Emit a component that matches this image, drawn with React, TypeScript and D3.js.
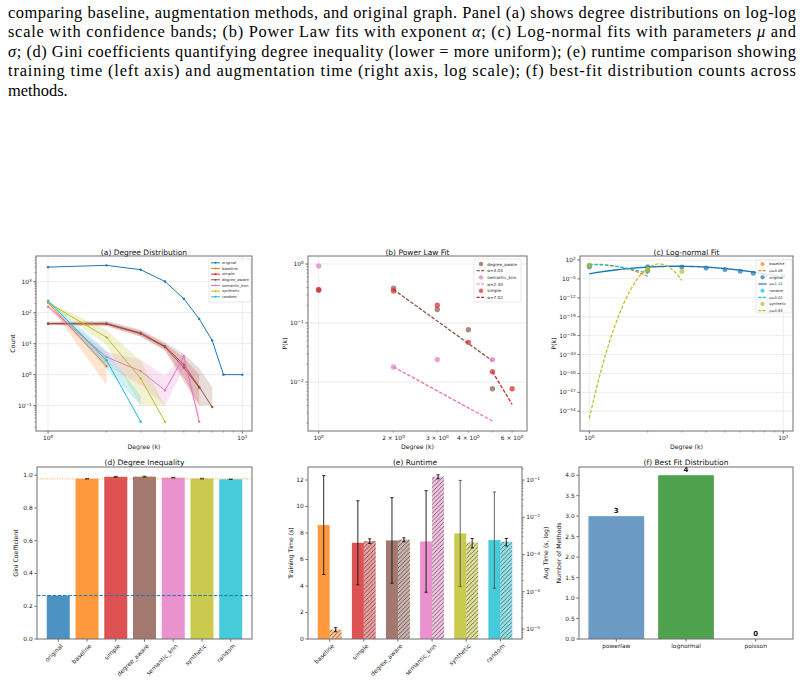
import * as d3 from "d3";
import { useEffect, useRef } from "react";

const W = 804;
const H = 684;
const FONT = "DejaVu Sans, Verdana, sans-serif";

const CAPTION_LINES = [
  "comparing baseline, augmentation methods, and original graph. Panel (a) shows degree distributions on log-log",
  "scale with confidence bands; (b) Power Law fits with exponent {α}; (c) Log-normal fits with parameters {μ} and",
  "{σ}; (d) Gini coefficients quantifying degree inequality (lower = more uniform); (e) runtime comparison showing",
  "training time (left axis) and augmentation time (right axis, log scale); (f) best-fit distribution counts across",
  "methods.",
];

const METHODS = ["original", "baseline", "simple", "degree_aware", "semantic_knn", "synthetic", "random"];
const COLORS: Record<string, string> = {
  original:     "#1f77b4",
  baseline:     "#ff7f0e",
  simple:       "#d62728",
  degree_aware: "#8c564b",
  semantic_knn: "#e377c2",
  synthetic:    "#bcbd22",
  random:       "#17becf",
};

// (a) degree distribution: mean count per degree, lower / upper band
const K_ORIGINAL = [1, 2, 3, 4, 5, 6, 7, 8, 10];
const N_ORIGINAL = [2950, 3380, 2440, 1020, 282, 63, 12.6, 1, 1];
const N_BASELINE = [210, 1.86];
const LO_BASELINE = [195, 0.45];
const HI_BASELINE = [226, 3.4];
const N_SIMPLE = [44, 43, 21, 7.8, 1.7, 0.38];
const LO_SIMPLE = [40, 38, 17, 6, 0.6, 0.1];
const HI_SIMPLE = [48, 50, 26, 10, 3.6, 1.0];
const N_DEGREE_AWARE = [45, 45, 22, 8.2, 2.1, 0.4, 0.09];
const LO_DEGREE_AWARE = [40, 37, 17, 6.2, 0.8, 0.1, 0.1];
const HI_DEGREE_AWARE = [51, 55, 28, 11, 4.6, 1.6, 0.4];
const N_SEMANTIC_KNN = [155, 3.7, 1.3, 0.31, 3.9, 0.03];
const LO_SEMANTIC_KNN = [140, 2.0, 0.45, 0.1, 1.6, 0.03];
const HI_SEMANTIC_KNN = [170, 5.5, 3.0, 0.9, 5.0, 0.06];
const N_SYNTHETIC = [210, 16, 0.75, 0.03];
const LO_SYNTHETIC = [195, 9, 0.1, 0.1];
const HI_SYNTHETIC = [226, 28, 2.8, 0.1];
const N_RANDOM = [245, 2.9, 0.03];
const LO_RANDOM = [230, 1.5, 0.1];
const HI_RANDOM = [262, 6, 0.2];

// (b) power law fit: empirical P(k) and fitted exponents
const K_PL_DEGREE_AWARE = [1, 2, 3, 4, 5];
const P_PL_DEGREE_AWARE = [0.36, 0.39, 0.17, 0.077, 0.0077];
const K_PL_SEMANTIC_KNN = [1, 2, 3, 5];
const P_PL_SEMANTIC_KNN = [0.93, 0.018, 0.024, 0.024];
const K_PL_SIMPLE = [1, 2, 3, 4, 5, 6];
const P_PL_SIMPLE = [0.37, 0.35, 0.2, 0.047, 0.015, 0.0077];
const PL_METHODS = ["degree_aware", "semantic_knn", "simple"];
const PL_ALPHA = [3.04, 2.30, 7.02];
const PL_KMIN = [2, 2, 5];
const PL_KMAX = [5, 5, 6];
const PL_P0 = [0.37, 0.018, 0.015];

// (c) log-normal fit: empirical P(k) and fitted parameters
const K_LN_BASELINE = [1, 2];
const P_LN_BASELINE = [0.99, 0.0088];
const P_LN_ORIGINAL = [0.29, 0.33, 0.24, 0.1, 0.028, 0.0062, 0.0012, 0.0001, 0.0001];
const K_LN_RANDOM = [1, 2];
const P_LN_RANDOM = [0.99, 0.012];
const K_LN_SYNTHETIC = [1, 2, 3];
const P_LN_SYNTHETIC = [0.92, 0.045, 0.005];
const LN_METHODS = ["baseline", "original", "random", "synthetic"];
const LN_MU = [0.08, 1.12, 0.02, 0.83];
const LN_SIGMA = [0.14, 0.29, 0.18, 0.051];
const LN_KMAX = [2, 10, 2, 3];

// (d) gini
const GINI = [0.265, 0.978, 0.99, 0.991, 0.985, 0.979, 0.975];
const GINI_ERR = [0, 0.002, 0.003, 0.003, 0.002, 0.002, 0.001];

// (e) runtime
const RT_METHODS = ["baseline", "simple", "degree_aware", "semantic_knn", "synthetic", "random"];
const TRAIN_TIME = [8.6, 7.26, 7.44, 7.36, 7.97, 7.46];
const TRAIN_STD = [3.73, 3.17, 3.23, 3.83, 4.0, 3.63];
const AUG_TIME = [9.6e-6, 0.0023, 0.0025, 0.123, 0.0021, 0.0022];
const AUG_STD = [1.2e-6, 0.00033, 0.0003, 0.015, 0.0006, 0.0005];

// (f) best fit
const FIT_TYPES = ["powerlaw", "lognormal", "poisson"];
const FIT_COUNTS = [3, 4, 0];
const FIT_COLORS = ["steelblue", "forestgreen", "coral"];

const sup = (e: number) => (e < 0 ? "\u2212" + -e : String(e));

export default function App() {
  const svgRef = useRef<SVGSVGElement>(null);

  useEffect(() => {
    const svg = d3.select(svgRef.current);
    svg.selectAll("*").remove();
    svg.append("rect").attr("width", W).attr("height", H).attr("fill", "#fff");
    const defs = svg.append("defs");

    // ── Caption ──
    const cap = svg.append("g")
      .attr("font-family", "Liberation Serif")
      .attr("font-size", 16.4)
      .attr("fill", "#000");
    CAPTION_LINES.forEach((line, i) => {
      const t = cap.append("text").attr("x", 8).attr("y", 17.6 + i * 19.6);
      if (i < CAPTION_LINES.length - 1) t.attr("textLength", 788).attr("lengthAdjust", "spacing");
      line.split(/(\{[^}]+\})/).forEach((part) => {
        if (!part) return;
        if (part.startsWith("{")) t.append("tspan").attr("font-style", "italic").text(part.slice(1, -1));
        else t.append("tspan").text(part);
      });
    });

    const root = svg.append("g").attr("font-family", FONT).attr("fill", "#222");

    // label with optional "^exp"
    const label = (t: any, lab: string) => {
      const m = lab.match(/^(.*?)\^(.*)$/);
      if (m) {
        t.append("tspan").text(m[1]);
        t.append("tspan").attr("dy", "-0.45em").attr("font-size", "0.72em").text(m[2]);
      } else t.text(lab);
    };

    const xTick = (px: number, y0: number, lab: string | null, minor = false) => {
      root.append("line").attr("x1", px).attr("x2", px).attr("y1", y0).attr("y2", y0 + (minor ? 1.5 : 2.6))
        .attr("stroke", "#333").attr("stroke-width", minor ? 0.5 : 0.7);
      if (lab !== null) {
        const t = root.append("text").attr("x", px).attr("y", y0 + 9).attr("text-anchor", "middle").attr("font-size", 5.9);
        label(t, lab);
      }
    };
    const yTick = (py: number, x0: number, lab: string | null, minor = false, right = false) => {
      const d = right ? 1 : -1;
      root.append("line").attr("x1", x0).attr("x2", x0 + d * (minor ? 1.5 : 2.6)).attr("y1", py).attr("y2", py)
        .attr("stroke", "#333").attr("stroke-width", minor ? 0.5 : 0.7);
      if (lab !== null) {
        const t = root.append("text").attr("x", x0 + d * 4.3).attr("y", py + 2)
          .attr("text-anchor", right ? "start" : "end").attr("font-size", 5.9);
        label(t, lab);
      }
    };
    const title = (cx: number, y: number, s: string) =>
      root.append("text").attr("x", cx).attr("y", y).attr("text-anchor", "middle").attr("font-size", 7.5).attr("fill", "#111").text(s);
    const xLabel = (cx: number, y: number, s: string) =>
      root.append("text").attr("x", cx).attr("y", y).attr("text-anchor", "middle").attr("font-size", 6.2).text(s);
    const yLabel = (x: number, cy: number, s: string) =>
      root.append("text").attr("transform", `translate(${x},${cy}) rotate(-90)`).attr("text-anchor", "middle").attr("font-size", 6.2).text(s);
    const frame = (x0: number, x1: number, y0: number, y1: number) =>
      root.append("rect").attr("x", x0).attr("y", y0).attr("width", x1 - x0).attr("height", y1 - y0)
        .attr("fill", "none").attr("stroke", "#6e6e6e").attr("stroke-width", 1);
    const clip = (id: string, x0: number, x1: number, y0: number, y1: number) => {
      defs.append("clipPath").attr("id", id).append("rect").attr("x", x0).attr("y", y0).attr("width", x1 - x0).attr("height", y1 - y0);
      return root.append("g").attr("clip-path", `url(#${id})`);
    };
    const hGrid = (g: any, py: number, x0: number, x1: number) =>
      g.append("line").attr("x1", x0).attr("x2", x1).attr("y1", py).attr("y2", py).attr("stroke", "#e8e8e8").attr("stroke-width", 0.8);
    const vGrid = (g: any, px: number, y0: number, y1: number) =>
      g.append("line").attr("x1", px).attr("x2", px).attr("y1", y0).attr("y2", y1).attr("stroke", "#e8e8e8").attr("stroke-width", 0.8);
    const legendBox = (x0: number, y0: number, w: number, h: number) =>
      root.append("rect").attr("x", x0).attr("y", y0).attr("width", w).attr("height", h).attr("rx", 1.2)
        .attr("fill", "#fff").attr("fill-opacity", 0.85).attr("stroke", "#d0d0d0").attr("stroke-width", 0.5);

    // ════════ (a) Degree Distribution ════════
    {
      const L = 36, R = 252, T = 256, B = 431;
      const x = d3.scaleLog().domain([10 ** -0.062, 10 ** 1.05]).range([L, R]);
      const y = d3.scaleLog().domain([10 ** -1.82, 10 ** 3.83]).range([B, T]);
      const g = clip("clipA", L, R, T, B);
      [-1, 0, 1, 2, 3].forEach((e) => hGrid(g, y(10 ** e), L, R));
      [1, 10].forEach((v) => vGrid(g, x(v), T, B));

      const series = [
        { m: "original", k: K_ORIGINAL, n: N_ORIGINAL, lo: null, hi: null },
        { m: "baseline", k: d3.range(1, N_BASELINE.length + 1), n: N_BASELINE, lo: LO_BASELINE, hi: HI_BASELINE },
        { m: "simple", k: d3.range(1, N_SIMPLE.length + 1), n: N_SIMPLE, lo: LO_SIMPLE, hi: HI_SIMPLE },
        { m: "degree_aware", k: d3.range(1, N_DEGREE_AWARE.length + 1), n: N_DEGREE_AWARE, lo: LO_DEGREE_AWARE, hi: HI_DEGREE_AWARE },
        { m: "semantic_knn", k: d3.range(1, N_SEMANTIC_KNN.length + 1), n: N_SEMANTIC_KNN, lo: LO_SEMANTIC_KNN, hi: HI_SEMANTIC_KNN },
        { m: "synthetic", k: d3.range(1, N_SYNTHETIC.length + 1), n: N_SYNTHETIC, lo: LO_SYNTHETIC, hi: HI_SYNTHETIC },
        { m: "random", k: d3.range(1, N_RANDOM.length + 1), n: N_RANDOM, lo: LO_RANDOM, hi: HI_RANDOM },
      ];
      series.forEach((s) => {
        const c = COLORS[s.m];
        if (s.lo && s.hi) {
          const lo = s.lo, hi = s.hi;
          g.append("path")
            .attr("d", d3.area<number>().x((kk) => x(kk)).y0((_, i) => y(lo[i])).y1((_, i) => y(hi[i]))(s.k))
            .attr("fill", c).attr("fill-opacity", 0.2).attr("stroke", "none");
        }
        g.append("path")
          .attr("d", d3.line<number>().x((kk) => x(kk)).y((_, i) => y(s.n[i]))(s.k))
          .attr("fill", "none").attr("stroke", c).attr("stroke-width", 1);
        s.k.forEach((kk, i) => g.append("circle").attr("cx", x(kk)).attr("cy", y(s.n[i])).attr("r", 1.2).attr("fill", c));
      });

      [1, 10].forEach((v) => xTick(x(v), B, `10^${Math.log10(v)}`));
      d3.range(2, 10).forEach((v) => xTick(x(v), B, null, true));
      [-1, 0, 1, 2, 3].forEach((e) => yTick(y(10 ** e), L, `10^${sup(e)}`));
      [-2, -1, 0, 1, 2, 3].forEach((e) => d3.range(2, 10).forEach((m) => {
        const v = m * 10 ** e;
        if (v > y.domain()[0] && v < y.domain()[1]) yTick(y(v), L, null, true);
      }));

      // legend
      legendBox(209, 259, 42, 43);
      METHODS.forEach((m, i) => {
        const cy = 262.8 + i * 5.67;
        root.append("line").attr("x1", 211).attr("x2", 220).attr("y1", cy).attr("y2", cy).attr("stroke", COLORS[m]).attr("stroke-width", 1);
        root.append("circle").attr("cx", 215.5).attr("cy", cy).attr("r", 1).attr("fill", COLORS[m]);
        root.append("text").attr("x", 222).attr("y", cy + 1.3).attr("font-size", 3.8).text(m);
      });

      frame(L, R, T, B);
      title((L + R) / 2, 254.5, "(a) Degree Distribution");
      xLabel((L + R) / 2, 448.5, "Degree (k)");
      yLabel(14.5, (T + B) / 2, "Count");
    }

    // ════════ (b) Power Law Fit ════════
    {
      const L = 308, R = 527, T = 256, B = 431;
      const x = d3.scaleLog().domain([10 ** -0.043, 10 ** 0.838]).range([L, R]);
      const y = d3.scaleLog().domain([10 ** -2.83, 10 ** 0.136]).range([B, T]);
      const g = clip("clipB", L, R, T, B);
      [-2, -1, 0].forEach((e) => hGrid(g, y(10 ** e), L, R));
      vGrid(g, x(1), T, B);

      const pts = [
        { m: "degree_aware", k: K_PL_DEGREE_AWARE, p: P_PL_DEGREE_AWARE },
        { m: "semantic_knn", k: K_PL_SEMANTIC_KNN, p: P_PL_SEMANTIC_KNN },
        { m: "simple", k: K_PL_SIMPLE, p: P_PL_SIMPLE },
      ];
      pts.forEach((s, si) => {
        const c = COLORS[s.m];
        s.k.forEach((kk, i) => g.append("circle").attr("cx", x(kk)).attr("cy", y(s.p[i])).attr("r", 2.7)
          .attr("fill", c).attr("fill-opacity", 0.7));
        const a = PL_ALPHA[si];
        const ks = [PL_KMIN[si], PL_KMAX[si]];
        g.append("path")
          .attr("d", d3.line<number>().x((kk) => x(kk)).y((kk) => y(PL_P0[si] * (kk / PL_KMIN[si]) ** -a))(ks))
          .attr("fill", "none").attr("stroke", c).attr("stroke-width", 1.3).attr("stroke-dasharray", "3.6,1.6");
      });

      xTick(x(1), B, "10^0");
      d3.range(2, 7).forEach((v) => xTick(x(v), B, v === 5 ? null : `${v} × 10^0`, true));
      [-2, -1, 0].forEach((e) => yTick(y(10 ** e), L, `10^${sup(e)}`));
      [-3, -2, -1].forEach((e) => d3.range(2, 10).forEach((m) => {
        const v = m * 10 ** e;
        if (v > y.domain()[0] && v < y.domain()[1]) yTick(y(v), L, null, true);
      }));

      legendBox(474, 259, 47, 43);
      PL_METHODS.forEach((m, i) => {
        const c = COLORS[m];
        const cy1 = 264 + i * 13.34, cy2 = cy1 + 6.67;
        root.append("circle").attr("cx", 481).attr("cy", cy1).attr("r", 2.2).attr("fill", c).attr("fill-opacity", 0.7);
        root.append("text").attr("x", 487.3).attr("y", cy1 + 1.5).attr("font-size", 4.2).text(m);
        root.append("line").attr("x1", 476.7).attr("x2", 485.3).attr("y1", cy2).attr("y2", cy2)
          .attr("stroke", c).attr("stroke-width", 1.2).attr("stroke-dasharray", "3,1.4");
        root.append("text").attr("x", 487.3).attr("y", cy2 + 1.5).attr("font-size", 4.2).text(`α=${PL_ALPHA[i].toFixed(2)}`);
      });

      frame(L, R, T, B);
      title((L + R) / 2, 254.5, "(b) Power Law Fit");
      xLabel((L + R) / 2, 448.5, "Degree (k)");
      yLabel(287, (T + B) / 2, "P(k)");
    }

    // ════════ (c) Log-normal Fit ════════
    {
      const L = 580, R = 793, T = 256, B = 431;
      const x = d3.scaleLog().domain([10 ** -0.048, 10 ** 1.05]).range([L, R]);
      const y = d3.scaleLog().domain([10 ** -61.3, 10 ** 3.47]).range([B, T]);
      const g = clip("clipC", L, R, T, B);
      const yt = [2, -5, -12, -19, -26, -33, -40, -47, -54];
      yt.forEach((e) => hGrid(g, y(10 ** e), L, R));
      [1, 10].forEach((v) => vGrid(g, x(v), T, B));

      const pdf = (k: number, mu: number, s: number) =>
        Math.exp(-((Math.log(k) - mu) ** 2) / (2 * s * s)) / (k * s * Math.sqrt(2 * Math.PI));

      const pts: Record<string, { k: number[]; p: number[] }> = {
        baseline: { k: K_LN_BASELINE, p: P_LN_BASELINE },
        original: { k: K_ORIGINAL, p: P_LN_ORIGINAL },
        random: { k: K_LN_RANDOM, p: P_LN_RANDOM },
        synthetic: { k: K_LN_SYNTHETIC, p: P_LN_SYNTHETIC },
      };
      LN_METHODS.forEach((m, i) => {
        const c = COLORS[m];
        pts[m].k.forEach((kk, j) => g.append("circle").attr("cx", x(kk)).attr("cy", y(pts[m].p[j])).attr("r", 2.5)
          .attr("fill", c).attr("fill-opacity", 0.7));
        const ks = d3.range(0, 301).map((j) => 1 + ((LN_KMAX[i] - 1) * j) / 300);
        const solid = m === "original";
        g.append("path")
          .attr("d", d3.line<number>().x((kk) => x(kk)).y((kk) => y(Math.max(1e-300, pdf(kk, LN_MU[i], LN_SIGMA[i]))))(ks))
          .attr("fill", "none").attr("stroke", c).attr("stroke-width", solid ? 1.4 : 1.2)
          .attr("stroke-dasharray", solid ? null : "3.6,1.6");
      });

      [1, 10].forEach((v) => xTick(x(v), B, `10^${Math.log10(v)}`));
      d3.range(2, 10).forEach((v) => xTick(x(v), B, null, true));
      yt.forEach((e) => yTick(y(10 ** e), L, `10^${sup(e)}`));

      legendBox(756, 260, 36, 53);
      LN_METHODS.forEach((m, i) => {
        const c = COLORS[m];
        const cy1 = 264 + i * 13.34, cy2 = cy1 + 6.67;
        root.append("circle").attr("cx", 762.5).attr("cy", cy1).attr("r", 2.1).attr("fill", c).attr("fill-opacity", 0.7);
        root.append("text").attr("x", 769.3).attr("y", cy1 + 1.3).attr("font-size", 3.6).text(m);
        root.append("line").attr("x1", 758.3).attr("x2", 766.7).attr("y1", cy2).attr("y2", cy2)
          .attr("stroke", c).attr("stroke-width", 1.2).attr("stroke-dasharray", m === "original" ? null : "3,1.4");
        root.append("text").attr("x", 769.3).attr("y", cy2 + 1.3).attr("font-size", 3.6).text(`μ=${LN_MU[i].toFixed(2)}`);
      });

      frame(L, R, T, B);
      title((L + R) / 2, 254.5, "(c) Log-normal Fit");
      xLabel((L + R) / 2, 448.5, "Degree (k)");
      yLabel(556, (T + B) / 2, "P(k)");
    }

    // ════════ (d) Degree Inequality ════════
    {
      const L = 37, R = 252, T = 467, B = 639;
      const x = d3.scaleLinear().domain([-0.74, 6.74]).range([L, R]);
      const y = d3.scaleLinear().domain([0, 1.05]).range([B, T]);
      const bw = x(0.8) - x(0);
      METHODS.forEach((m, i) => {
        root.append("rect").attr("x", x(i) - bw / 2).attr("y", y(GINI[i])).attr("width", bw).attr("height", B - y(GINI[i]))
          .attr("fill", COLORS[m]).attr("fill-opacity", 0.8);
        if (GINI_ERR[i] > 0) {
          const cx = x(i);
          root.append("line").attr("x1", cx).attr("x2", cx).attr("y1", y(GINI[i] - GINI_ERR[i])).attr("y2", y(GINI[i] + GINI_ERR[i]))
            .attr("stroke", "#222").attr("stroke-width", 0.8);
          [-1, 1].forEach((s) => root.append("line").attr("x1", cx - 2).attr("x2", cx + 2)
            .attr("y1", y(GINI[i] + s * GINI_ERR[i])).attr("y2", y(GINI[i] + s * GINI_ERR[i])).attr("stroke", "#222").attr("stroke-width", 0.8));
        }
      });
      root.append("line").attr("x1", L).attr("x2", R).attr("y1", y(GINI[0])).attr("y2", y(GINI[0]))
        .attr("stroke", COLORS.original).attr("stroke-width", 1).attr("stroke-dasharray", "3.6,1.6");
      root.append("line").attr("x1", L).attr("x2", R).attr("y1", y(GINI[1])).attr("y2", y(GINI[1]))
        .attr("stroke", COLORS.baseline).attr("stroke-width", 1).attr("stroke-opacity", 0.7).attr("stroke-dasharray", "1,1.5");

      d3.range(0, 1.01, 0.2).forEach((v) => yTick(y(v), L, v.toFixed(1)));
      METHODS.forEach((m, i) => {
        root.append("line").attr("x1", x(i)).attr("x2", x(i)).attr("y1", B).attr("y2", B + 2.6).attr("stroke", "#333").attr("stroke-width", 0.7);
        root.append("text").attr("transform", `translate(${x(i) + 2},${B + 4.5}) rotate(-45)`)
          .attr("text-anchor", "end").attr("dy", "0.7em").attr("font-size", 6).text(m);
      });

      frame(L, R, T, B);
      title((L + R) / 2, 465, "(d) Degree Inequality");
      yLabel(18, (T + B) / 2, "Gini Coefficient");
    }

    // ════════ (e) Runtime ════════
    {
      const L = 308, R = 522, T = 467, B = 639;
      const x = d3.scaleLinear().domain([-0.635, 5.635]).range([L, R]);
      const y = d3.scaleLinear().domain([0, 12.98]).range([B, T]);
      const y2 = d3.scaleLog().domain([10 ** -5.27, 10 ** -0.65]).range([B, T]);
      const bw = x(0.35) - x(0);

      const pat = defs.append("pattern").attr("id", "hatch").attr("patternUnits", "userSpaceOnUse")
        .attr("width", 4.2).attr("height", 4.2);
      pat.append("path").attr("d", "M0,4.2 L4.2,0 M-1,1 L1,-1 M3.2,5.2 L5.2,3.2")
        .attr("stroke", "#1a1a1a").attr("stroke-width", 0.55);

      const errBar = (cx: number, y0: number, y1: number, color: string, cap: number) => {
        root.append("line").attr("x1", cx).attr("x2", cx).attr("y1", y0).attr("y2", y1).attr("stroke", color).attr("stroke-width", 0.9);
        [y0, y1].forEach((yy) => root.append("line").attr("x1", cx - cap).attr("x2", cx + cap).attr("y1", yy).attr("y2", yy)
          .attr("stroke", color).attr("stroke-width", 0.9));
      };

      RT_METHODS.forEach((m, i) => {
        const cx = x(i - 0.175);
        root.append("rect").attr("x", cx - bw / 2).attr("y", y(TRAIN_TIME[i])).attr("width", bw).attr("height", B - y(TRAIN_TIME[i]))
          .attr("fill", COLORS[m]).attr("fill-opacity", 0.8);
        errBar(cx, y(TRAIN_TIME[i] - TRAIN_STD[i]), y(TRAIN_TIME[i] + TRAIN_STD[i]), i >= 4 ? "#555" : "#111", 1.6);
      });
      RT_METHODS.forEach((m, i) => {
        const cx = x(i + 0.175);
        const top = y2(AUG_TIME[i]);
        root.append("rect").attr("x", cx - bw / 2).attr("y", top).attr("width", bw).attr("height", B - top)
          .attr("fill", COLORS[m]).attr("fill-opacity", 0.45);
        root.append("rect").attr("x", cx - bw / 2).attr("y", top).attr("width", bw).attr("height", B - top)
          .attr("fill", "url(#hatch)");
        errBar(cx, y2(AUG_TIME[i] - AUG_STD[i]), y2(AUG_TIME[i] + AUG_STD[i]), "#111", 1.6);
      });

      d3.range(0, 13, 2).forEach((v) => yTick(y(v), L, String(v)));
      [-5, -4, -3, -2, -1].forEach((e) => yTick(y2(10 ** e), R, `10^${sup(e)}`, false, true));
      [-6, -5, -4, -3, -2, -1].forEach((e) => d3.range(2, 10).forEach((m) => {
        const v = m * 10 ** e;
        if (v > y2.domain()[0] && v < y2.domain()[1]) yTick(y2(v), R, null, true, true);
      }));
      RT_METHODS.forEach((m, i) => {
        root.append("line").attr("x1", x(i)).attr("x2", x(i)).attr("y1", B).attr("y2", B + 2.6).attr("stroke", "#333").attr("stroke-width", 0.7);
        root.append("text").attr("transform", `translate(${x(i) + 2},${B + 4.5}) rotate(-45)`)
          .attr("text-anchor", "end").attr("dy", "0.7em").attr("font-size", 6).text(m);
      });

      frame(L, R, T, B);
      title((L + R) / 2, 465, "(e) Runtime");
      yLabel(293, (T + B) / 2, "Training Time (s)");
      yLabel(548, (T + B) / 2, "Aug Time (s, log)");
    }

    // ════════ (f) Best Fit Distribution ════════
    {
      const L = 579, R = 793, T = 467, B = 639;
      const x = d3.scaleLinear().domain([-0.535, 2.535]).range([L, R]);
      const y = d3.scaleLinear().domain([0, 4.2]).range([B, T]);
      const bw = x(0.8) - x(0);
      FIT_TYPES.forEach((f, i) => {
        root.append("rect").attr("x", x(i) - bw / 2).attr("y", y(FIT_COUNTS[i])).attr("width", bw).attr("height", B - y(FIT_COUNTS[i]))
          .attr("fill", FIT_COLORS[i]).attr("fill-opacity", 0.8);
        root.append("text").attr("x", x(i)).attr("y", y(FIT_COUNTS[i]) - 3.5).attr("text-anchor", "middle")
          .attr("font-size", 7).attr("font-weight", "bold").attr("fill", "#111").text(String(FIT_COUNTS[i]));
        xTick(x(i), B, f);
      });
      d3.range(0, 4.01, 0.5).forEach((v) => yTick(y(v), L, v.toFixed(1)));

      frame(L, R, T, B);
      title((L + R) / 2, 465, "(f) Best Fit Distribution");
      yLabel(561, (T + B) / 2, "Number of Methods");
    }
  }, []);

  return (
    <div style={{ position: "absolute", left: 0, top: 0 }}>
      <svg ref={svgRef} width={W} height={H} style={{ display: "block" }}></svg>
    </div>
  );
}
